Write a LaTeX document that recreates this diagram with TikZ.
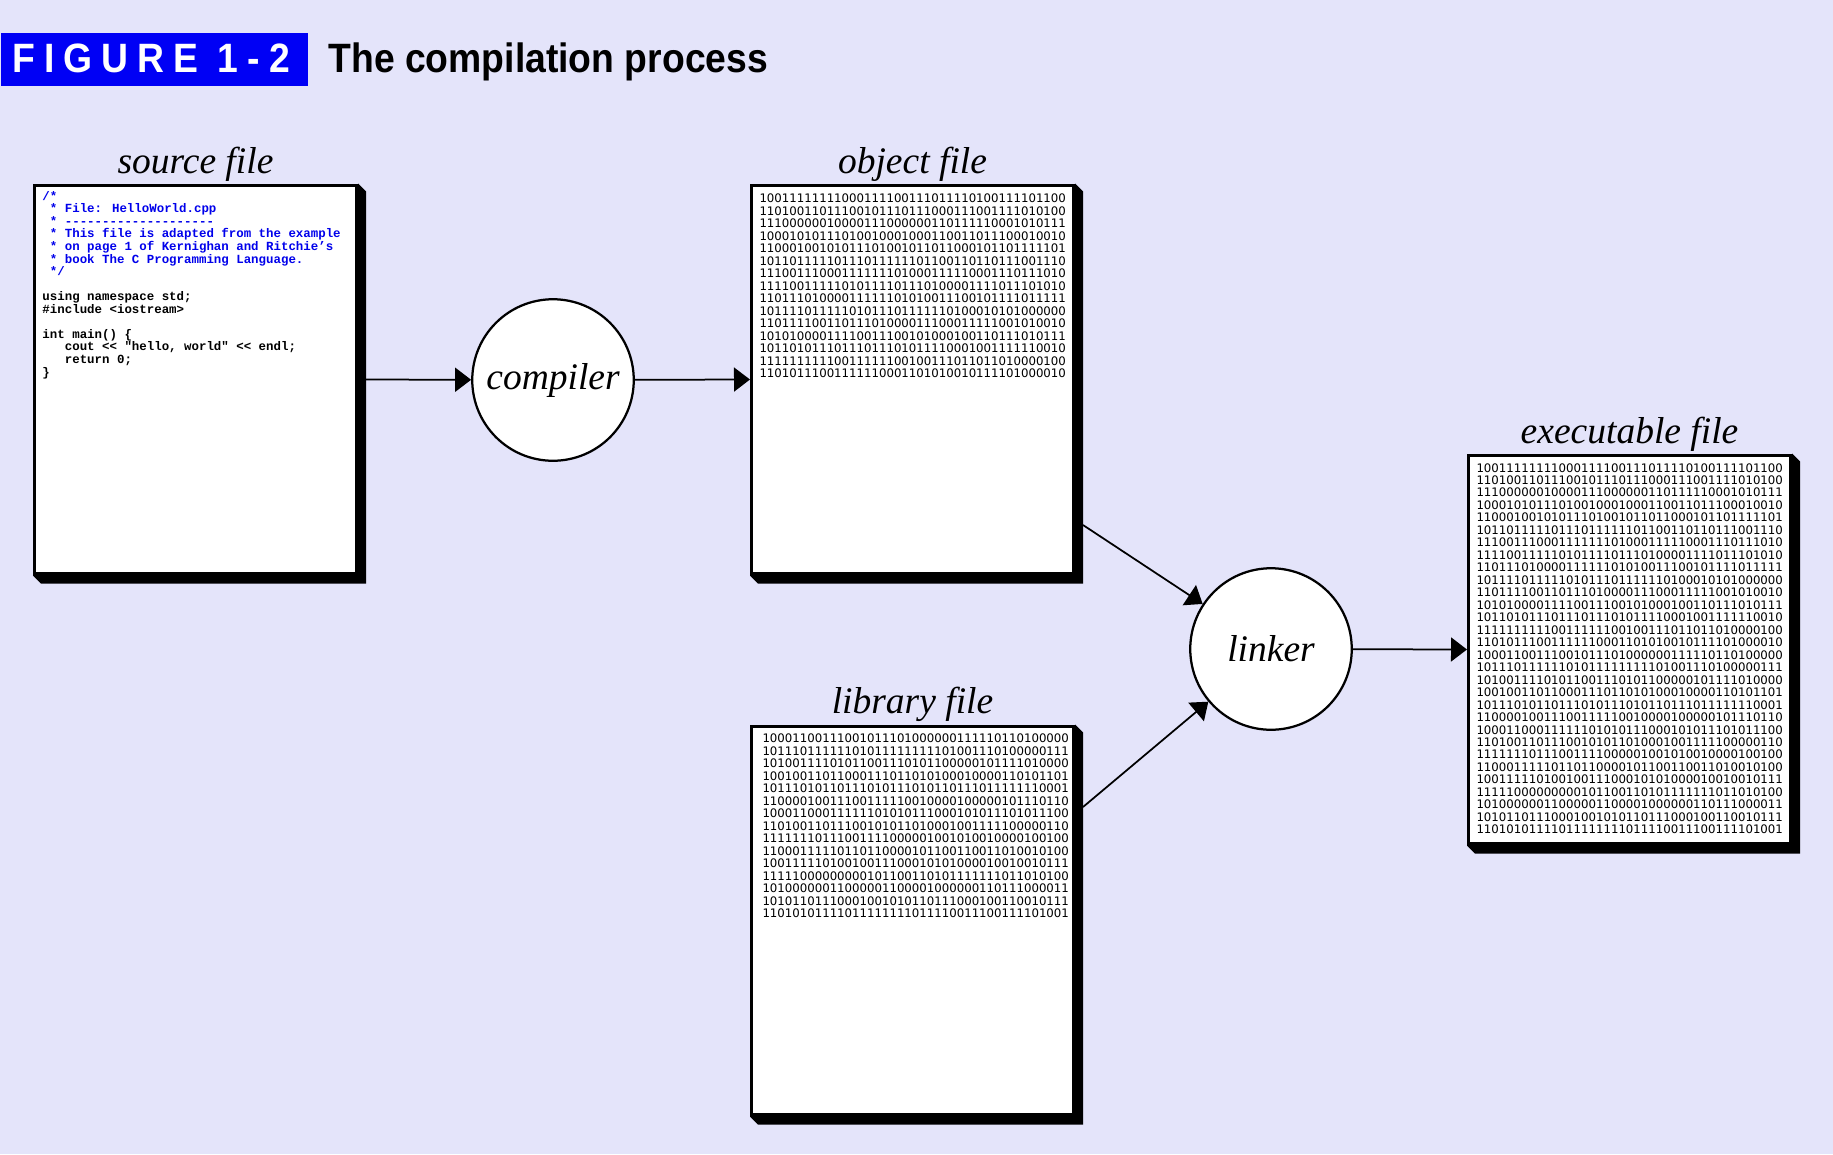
\documentclass[tikz,border=0pt]{standalone}
\usepackage{fontspec}
\setmainfont{Liberation Serif}
\setsansfont{Liberation Sans}
\newfontfamily\titlefont[FakeStretch=0.91]{Liberation Sans}
\newfontfamily\codefont{Liberation Mono}
\newfontfamily\bitfont{DejaVu Sans}
\usetikzlibrary{arrows.meta,calc,positioning}

\definecolor{paper}{RGB}{228,228,250}
\definecolor{figblue}{RGB}{0,0,245}
\definecolor{codeblue}{RGB}{0,0,235}

\lineskiplimit=-5pt
\newcommand{\cmt}[1]{\textcolor{codeblue}{#1}}
\newcommand{\ind}[1]{\hphantom{#1}}
\newcommand{\codesize}{\codefont\bfseries\fontsize{4.97}{5.02}\selectfont}
\newcommand{\bitsize}{\bitfont\fontsize{4.7}{4.99}\selectfont}

\newcommand{\objbits}{%
10011111111000111100111011110100111101100\\
11010011011100101110111000111001111010100\\
11100000010000111000000110111110001010111\\
10001010111010010001000110011011100010010\\
11000100101011101001011011000101101111101\\
10110111110111011111101100110110111001110\\
11100111000111111101000111110001110111010\\
11110011111010111101110100001111011101010\\
11011101000011111101010011100101111011111\\
10111101111101011101111110100010101000000\\
11011110011011101000011100011111001010010\\
10101000011110011100101000100110111010111\\
10110101110111011101011110001001111110010\\
11111111110011111100100111011011010000100\\
11010111001111110001101010010111101000010}

\newcommand{\libbits}{%
10001100111001011101000000111110110100000\\
10111011111101011111111101001110100000111\\
10100111101011001110101100000101111010000\\
10010011011000111011010100010000110101101\\
10111010110111010111010110111011111110001\\
11000010011100111110010000100000101110110\\
10001100011111101010111000101011101011100\\
11010011011100101011010001001111100000110\\
11111110111001111000001001010010000100100\\
11000111110110110000101100110011010010100\\
10011111010010011100010101000010010010111\\
11111000000000101100110101111111011010100\\
10100000011000001100001000000110111000011\\
10101101110001001010110111000100110010111\\
11010101111011111111011110011100111101001}

\begin{document}
\begin{tikzpicture}[x=0.4pt,y=-0.4pt,
	>={Triangle[length=6.4pt,width=9.6pt]},
	filebox/.style={draw,fill=white,line width=1.3pt,minimum width=128.7pt,minimum height=155.5pt,inner sep=0pt},
	tool/.style={circle,draw,fill=white,line width=0.9pt,minimum size=64.6pt,inner sep=0pt,font=\fontsize{15}{18}\selectfont\itshape},
	filename/.style={anchor=base,inner sep=0pt,font=\fontsize{15}{18}\selectfont\itshape},
	bits/.style={anchor=base west,align=left,inner sep=0pt,font=\bitsize},
	listing/.style={anchor=base west,align=left,inner sep=0pt,font=\codesize},
	flow/.style={->,line width=0.7pt}]
	
	% Background
	\useasboundingbox (0,0) rectangle (1833,1154);
	\fill[paper] (0,0) rectangle (1833,1154);
	
	% Heading
	\node[fill=figblue,anchor=north west,minimum width=122.8pt,minimum height=21.2pt,inner sep=0pt] (figbox) at (0,32) {};
	\node[anchor=base west,text=white,inner sep=0pt,font=\titlefont\bfseries\fontsize{16.4}{18}\selectfont\addfontfeature{LetterSpace=22}] (figtag) at (12,72.5) {FIGURE 1-2};
	\node[anchor=base west,inner sep=0pt,font=\titlefont\bfseries\fontsize{16.4}{18}\selectfont] (figtitle) at (328,72.5) {The compilation process};
	
	% Files
	\node[filebox] (src) at (195.5,379.5) {};
	\node[filebox] (obj) at (912.5,379.5) {};
	\node[filebox] (lib) at (912.5,920.5) {};
	\node[filebox] (exe) at (1629.5,649.5) {};
	\foreach \b in {src,obj,lib,exe}
		\fill (\b.north east) -- ++(3.2pt,-3.2pt) -- ([shift={(3.2pt,-3.2pt)}]\b.south east)
			-- ([shift={(3.2pt,-3.2pt)}]\b.south west) -- (\b.south west) -- (\b.south east) -- cycle;
	
	\node[filename] at ([yshift=4pt]src.north) {source file};
	\node[filename] at ([yshift=4pt]obj.north) {object file};
	\node[filename] at ([yshift=4.3pt]lib.north) {library file};
	\node[filename] at ([yshift=4pt]exe.north) {executable file};
	
	% Contents (anchored at the last line)
	\node[listing] (srctext) at (42,376) {\cmt{/*}\\
		\cmt{\ind{x}* File: HelloWorld.cpp}\\
		\cmt{\ind{x}* --------------------}\\
		\cmt{\ind{x}* This file is adapted from the example}\\
		\cmt{\ind{x}* on page 1 of Kernighan and Ritchie’s}\\
		\cmt{\ind{x}* book The C Programming Language.}\\
		\cmt{\ind{x}*/}\\
		\mbox{}\\
		using namespace std;\\
		\#include <iostream>\\
		\mbox{}\\
		int main() \{\\
		\ind{xxx}cout << "hello, world" << endl;\\
		\ind{xxx}return 0;\\
		\}};
	\node[bits] (objtext) at (759,377.6) {\objbits};
	\node[bits] (libtext) at (762,917.6) {\libbits};
	\node[bits] (exetext) at (1476,833.8) {\objbits\\\libbits};
	
	% Tools
	\node[tool] (comp) at (553,380) {compiler};
	\node[tool] (link) at (1271,649) {linker};
	
	% Arrows
	\draw[flow] ([xshift=3.2pt]src.east) -- (comp);
	\draw[flow] (comp) -- (obj.west);
	\draw[flow] ([shift={(3.2pt,-58.2pt)}]obj.east) -- (link);
	\draw[flow] ([shift={(3.2pt,45.4pt)}]lib.east) -- (link);
	\draw[flow] (link) -- (exe.west);
	
\end{tikzpicture}
\end{document}
